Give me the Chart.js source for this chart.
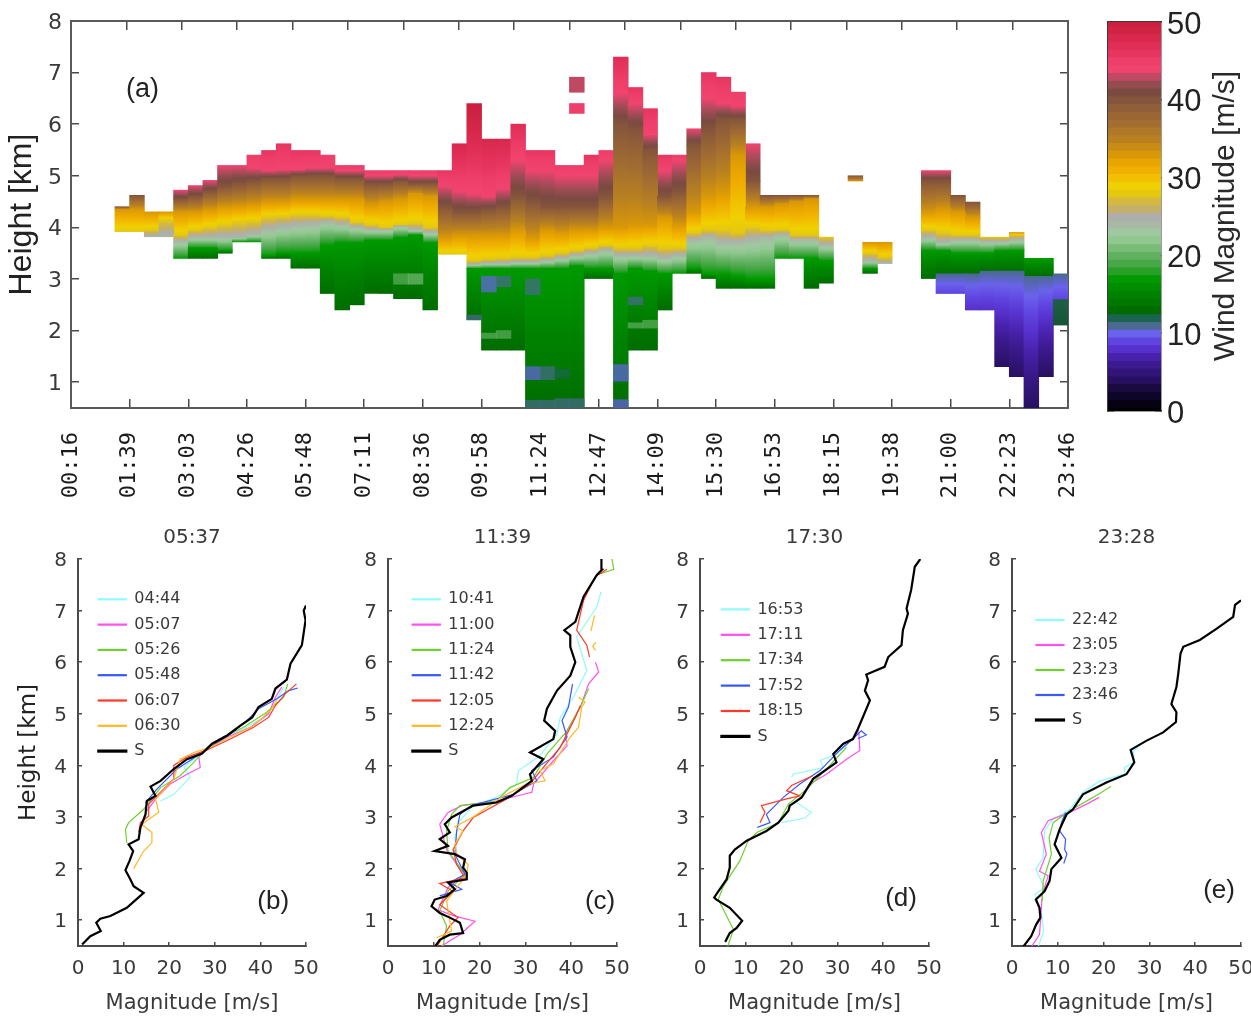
<!DOCTYPE html>
<html>
<head>
<meta charset="utf-8">
<title>Wind magnitude</title>
<script src="https://cdn.jsdelivr.net/npm/chart.js@4"></script>
<style>
    html, body { margin: 0; padding: 0; background: #fff; overflow: hidden; width: 1251px; height: 1016px; }
    canvas { position: absolute; filter: blur(0.5px); }
</style>
</head>
<body>
<canvas id="panel-a" width="1100" height="520" style="left:0;top:0"></canvas>
<canvas id="colorbar" width="161" height="440" style="left:1090px;top:0"></canvas>
<canvas id="panel-b" width="320" height="496" style="left:0;top:520px"></canvas>
<canvas id="panel-c" width="321" height="496" style="left:310px;top:520px"></canvas>
<canvas id="panel-d" width="321" height="496" style="left:622px;top:520px"></canvas>
<canvas id="panel-e" width="321" height="496" style="left:934px;top:520px"></canvas>
<script>
// time labels under the height/time plot, one every 4 columns
const timeLabels = ['00:16', '01:39', '03:03', '04:26', '05:48', '07:11', '08:36', '09:58', '11:24',
    '12:47', '14:09', '15:30', '16:53', '18:15', '19:38', '21:00', '22:23', '23:46'];
const timeTicks = [0, 4, 8, 12, 16, 20, 24, 28, 32, 36, 40, 44, 48, 52, 56, 60, 64, 68];
const heightTicks = [1, 2, 3, 4, 5, 6, 7, 8];
const colorbarTicks = [0, 10, 20, 30, 40, 50];

// colour of each whole m/s from 0 to 50
const magnitudeColors = [
    '#000000', '#060214', '#0e0628', '#1a0a40', '#281060', '#321578', '#3c1a90', '#4822ac', '#5630cc', '#6044e0',
    '#6a62ec', '#4a6a90', '#1a6450', '#006c00', '#007800', '#008200', '#008e00', '#009a00', '#28a028', '#48a848',
    '#60b060', '#78bc78', '#90c890', '#a0c8a0', '#a8b8a4', '#aeaeac', '#c4b068', '#d4b840', '#e4c810', '#f0d000',
    '#f2c000', '#f0b000', '#e8a400', '#d89808', '#c88c14', '#b88020', '#ae7828', '#a46e30', '#9a6634', '#905e38',
    '#84543c', '#7a4a40', '#944c50', '#c04862', '#f0446e', '#ee3e6a', '#e63660', '#e02e56', '#d8284c', '#d02444',
    '#cc1f3f'
];

// lowest and highest height [km] with data in each of the 68 time columns
const colBase = [
    0, 0, 0, 3.92, 3.92, 3.82, 3.82, 3.40, 3.40, 3.40,
    3.50, 3.72, 3.72, 3.40, 3.40, 3.21, 3.21, 2.72, 2.40, 2.50,
    2.72, 2.72, 2.62, 2.62, 2.40, 3.48, 3.48, 2.21, 1.62, 1.62,
    1.62, 0.5, 0.5, 0.5, 0.5, 3.01, 3.01, 0.5, 1.62, 1.62,
    2.40, 3.11, 3.11, 3.01, 2.82, 2.82, 2.82, 2.82, 3.40, 3.40,
    2.82, 2.92, 0, 4.90, 3.11, 3.30, 0, 0, 3.01, 2.72,
    2.72, 2.40, 2.40, 1.30, 1.11, 0.5, 1.11, 2.11
];
const colTop = [
    0, 0, 0, 4.40, 4.62, 4.30, 4.30, 4.72, 4.81, 4.91,
    5.20, 5.20, 5.40, 5.49, 5.62, 5.49, 5.49, 5.40, 5.20, 5.20,
    5.10, 5.10, 5.10, 5.10, 5.10, 5.10, 5.62, 6.40, 5.71, 5.71,
    6.00, 5.49, 5.49, 5.20, 5.20, 5.40, 5.49, 7.30, 6.71, 6.30,
    5.40, 5.40, 5.91, 7.00, 6.91, 6.62, 5.62, 4.62, 4.62, 4.62,
    4.62, 3.81, 0, 5.00, 3.71, 3.71, 0, 0, 5.10, 5.10,
    4.62, 4.49, 3.81, 3.81, 3.90, 3.40, 3.40, 3.10
];

// height [km] at which each column's magnitude passes 11, 17, 24, 28, 33, 40 and 44 m/s (9 = never)
const h11 = [
    0, 0, 0, 0, 0, 0, 0, 0, 0, 0,
    0, 0, 0, 0, 0, 0, 0, 0, 0, 0,
    0, 0, 0, 0, 0, 0, 0, 0, 0, 0,
    0, 0, 0, 0, 0, 0, 0, 0, 0, 0,
    0, 0, 0, 0, 0, 0, 0, 0, 0, 0,
    0, 0, 0, 0, 0, 0, 0, 0, 3.0, 3.1,
    3.1, 3.1, 3.15, 3.15, 3.15, 3.05, 3.05, 3.10
];
const h17 = [
    0, 0, 0, 0, 0, 0, 0, 3.3, 3.6, 3.6,
    3.55, 3.7, 3.7, 3.45, 3.5, 3.5, 3.5, 3.65, 3.7, 3.7,
    3.75, 3.75, 3.8, 3.85, 3.7, 3.4, 3.4, 3.2, 3.2, 3.2,
    3.2, 3.2, 3.2, 3.2, 3.25, 3.2, 3.2, 3.1, 3.2, 3.15,
    3.1, 3.1, 3.2, 3.1, 3.1, 3.05, 3.0, 3.0, 3.4, 3.4,
    3.4, 3.35, 0, 0, 3.2, 3.3, 0, 0, 3.55, 3.55,
    3.5, 3.5, 3.5, 3.55, 3.55, 3.5, 3.5, 3.2
];
const h24 = [
    0, 0, 0, 3.8, 3.8, 3.7, 3.75, 3.72, 3.8, 3.8,
    3.8, 3.8, 3.85, 3.95, 4.0, 4.03, 4.05, 4.1, 4.05, 4.0,
    3.95, 3.95, 4.02, 3.95, 3.9, 3.4, 3.4, 3.28, 3.3, 3.3,
    3.32, 3.32, 3.35, 3.4, 3.45, 3.5, 3.55, 3.45, 3.45, 3.45,
    3.4, 3.45, 3.75, 3.8, 3.7, 3.7, 3.75, 3.8, 3.85, 3.75,
    3.75, 3.65, 0, 0, 3.35, 3.3, 0, 0, 3.8, 3.7,
    3.75, 3.75, 3.72, 3.72, 3.75, 9, 9, 9
];
const h28 = [
    0, 0, 0, 3.9, 3.9, 3.95, 4.15, 3.85, 3.95, 4.0,
    4.05, 4.1, 4.12, 4.2, 4.22, 4.25, 4.25, 4.22, 4.2, 4.1,
    4.05, 4.0, 4.05, 4.08, 4.0, 3.42, 3.42, 3.35, 3.38, 3.4,
    3.42, 3.42, 3.45, 3.5, 3.55, 3.6, 3.65, 3.6, 3.6, 3.65,
    3.6, 3.6, 3.9, 3.95, 3.95, 3.9, 4.0, 3.95, 3.95, 3.85,
    3.85, 3.85, 0, 0, 3.5, 3.42, 0, 0, 3.95, 3.9,
    3.85, 3.85, 3.83, 3.82, 3.85, 9, 9, 9
];
const h33 = [
    0, 0, 0, 4.35, 4.35, 4.35, 4.4, 4.3, 4.3, 4.35,
    4.4, 4.42, 4.45, 4.5, 4.5, 4.55, 4.55, 4.55, 4.55, 4.55,
    4.45, 4.5, 4.55, 4.65, 4.6, 3.8, 3.85, 3.85, 3.85, 3.85,
    3.95, 3.8, 3.95, 3.9, 3.95, 3.95, 4.0, 4.0, 4.05, 4.05,
    4.2, 4.05, 4.3, 4.6, 4.7, 5.4, 4.4, 4.4, 4.45, 4.5,
    4.55, 9, 0, 4.7, 9, 9, 0, 0, 4.3, 4.35,
    4.3, 4.2, 9, 9, 9, 9, 9, 9
];
const h40 = [
    0, 0, 0, 4.8, 4.8, 9, 9, 4.55, 4.6, 4.7,
    4.8, 4.85, 4.9, 4.95, 4.95, 5.0, 5.0, 5.0, 4.95, 4.95,
    4.85, 4.85, 4.9, 4.85, 4.85, 4.4, 4.3, 4.3, 4.35, 4.4,
    4.6, 4.5, 4.4, 4.4, 4.4, 4.4, 4.6, 6.0, 5.9, 5.5,
    4.6, 4.7, 5.6, 5.9, 6.1, 6.1, 4.9, 4.75, 4.75, 4.8,
    4.8, 9, 0, 5.2, 9, 9, 0, 0, 4.9, 4.9,
    4.65, 9, 9, 9, 9, 9, 9, 9
];
const h44 = [
    0, 0, 0, 9, 9, 9, 9, 5.0, 5.0, 5.1,
    5.3, 5.25, 5.15, 5.1, 5.12, 5.12, 5.15, 5.15, 5.1, 5.1,
    5.0, 5.0, 5.02, 5.0, 5.0, 4.8, 4.7, 4.65, 4.6, 4.75,
    5.3, 5.1, 5.1, 5.0, 5.0, 5.0, 5.3, 6.6, 6.4, 5.8,
    5.1, 5.3, 6.0, 6.5, 6.4, 6.35, 9, 9, 9, 9,
    9, 9, 9, 9, 9, 9, 9, 9, 9, 9,
    9, 9, 9, 9, 9, 9, 9, 9
];
const bandEdges = [h11, h17, h24, h28, h33, h40, h44];
const bandLowMag = [4, 13, 17, 24, 28, 33, 40, 44];
const bandHighMag = [11, 17, 24, 28, 33, 40, 44, 50];

// patches that do not follow the bands: time column, low/high height, magnitude
const patchCols = [28, 29, 31, 31, 32, 33, 34, 31, 32, 33, 37, 37, 38, 27, 67, 28, 29, 38, 39, 22, 23, 34, 34];
const patchLows = [2.75, 2.85, 2.7, 0.5, 0.5, 0.5, 0.5, 1.05, 1.05, 1.08, 1.02, 0.5, 2.5, 2.21, 2.11, 1.85, 1.85, 2.05, 2.05, 2.9, 2.9, 6.62, 6.21];
const patchHighs = [3.05, 3.05, 3.0, 0.65, 0.65, 0.68, 0.68, 1.3, 1.3, 1.25, 1.34, 0.66, 2.65, 2.3, 2.6, 1.95, 2.0, 2.15, 2.2, 3.1, 3.1, 6.91, 6.40];
const patchMags = [10, 11, 11, 11, 11, 11, 11, 10, 11, 12, 10, 10, 11, 11, 13, 20, 20, 20, 20, 20, 21, 43, 45];

// profile panels, each series is a list of [magnitude, height], NaN marks a gap
const b0444 = [[18.1, 3.31], [21, 3.44], [24.6, 3.77], [23.2, 3.96], [27.6, 4.29], [31.9, 4.55], [36.3, 4.71], [40.7, 4.93], [42.9, 5.16], [45.1, 5.52]];
const b0507 = [[15.1, 3.12], [17.3, 3.38], [20.2, 3.64], [23.9, 3.83], [26.8, 3.96], [26.5, 4.16], [28.3, 4.32], [32.7, 4.55], [37.8, 4.74], [41.8, 5], [43.3, 5.32], [44.7, 5.52]];
const b0526 = [[10.7, 2.5], [10.4, 2.76], [11.1, 2.89], [14.4, 3.15], [18.1, 3.57], [22.4, 3.8], [25.4, 4.06], [28.3, 4.35], [31.9, 4.55], [36.3, 4.74], [41.4, 5.03], [45.1, 5.32], [46, 5.58]];
const b0548 = [[14.8, 3.28], [17.3, 3.54], [21.7, 3.93], [25, 4.12], [29, 4.35], [33.4, 4.61], [37.1, 4.87], [39.6, 5.1], [43.6, 5.29], [46.2, 5.45], [48.2, 5.5]];
const b0607 = [[13.3, 2.7], [13.7, 2.89], [15.5, 3.02], [15.5, 3.25], [17.3, 3.41], [21, 3.74], [21, 4], [23.9, 4.16], [28.3, 4.3], [33.4, 4.51], [38.5, 4.74], [41.8, 4.93], [43.3, 5.16], [45.5, 5.39], [47.9, 5.58]];
const b0630 = [[12.2, 2], [14.4, 2.34], [16.2, 2.5], [16.2, 2.7], [14, 2.86], [17.7, 3.09], [17, 3.35], [21, 3.74], [22.4, 4.12], [25.4, 4.25], [29, 4.35], [33.4, 4.55], [38.5, 4.77], [42.2, 5.06], [43.6, 5.26]];
const bS = [[0.9, 0.53], [2.7, 0.69], [5, 0.79], [4, 0.95], [4.9, 1.03], [7.1, 1.08], [10.7, 1.24], [14.4, 1.53], [12.2, 1.66], [11.5, 1.79], [10.4, 1.97], [11.3, 2.15], [12.1, 2.34], [11.1, 2.47], [13.3, 2.57], [13.7, 2.8], [14.8, 3.05], [15.1, 3.31], [17, 3.41], [15.9, 3.59], [18.1, 3.7], [21, 3.93], [23.9, 4.12], [27.2, 4.23], [29.4, 4.42], [32.7, 4.58], [35.6, 4.77], [38.2, 4.93], [39.6, 5.13], [42.5, 5.29], [43.3, 5.49], [45.8, 5.66], [46.6, 5.97], [49.1, 6.33], [49.9, 6.81], [49.5, 7], [50, 7.1]];

const c1041 = [[15, 2.34], [14.6, 2.6], [15.7, 2.93], [18.6, 3.22], [23.7, 3.38], [28.1, 3.64], [28.5, 3.9], [33.2, 4.19], [36.9, 4.61], [37.6, 4.93], [40.5, 5.32], [43.4, 5.84], [41.2, 6.49], [45.6, 7.07], [46.5, 7.36]];
const c1100 = [[11.3, 0.48], [15.7, 0.72], [19, 0.98], [14.6, 1.08], [10.9, 1.2], [13.1, 1.63], [16.8, 1.89], [15, 2.08], [12.8, 2.37], [11.3, 2.86], [13.1, 3.09], [16.1, 3.22], [23.7, 3.31], [31.4, 3.48], [31.8, 3.64], [36.1, 4.09], [39.1, 4.38], [38.7, 4.61], [42, 5.13], [43.8, 5.58], [46, 5.81], [45.3, 6]];
const c1124 = [[12, 0.48], [12.8, 0.89], [11.3, 1.18], [13.1, 1.56], [16.8, 1.89], [15, 2.11], [13.1, 2.34], [12.8, 2.73], [13.9, 3.05], [15.7, 3.22], [23.7, 3.31], [26.6, 3.57], [31.8, 3.77], [34.7, 4.22], [39.1, 4.67], [42.3, 5.19], [43.8, 5.49], [NaN, NaN], [45.6, 7.69], [49.3, 7.8], [48.9, 8]];
const c1142 = [[11.3, 1.47], [16.1, 1.6], [13.5, 1.73], [16.8, 1.89], [14.6, 2.28], [15, 2.73], [15.7, 3.05], [18.2, 3.22], [27.4, 3.44], [32.5, 3.7], [31.4, 3.9], [36.1, 4.16], [39.1, 4.55], [38, 4.87], [39.4, 5.13], [40.3, 5.58]];
const c1205 = [[10.6, 0.48], [13.5, 0.89], [15.3, 1.05], [11.3, 1.3], [14.2, 1.56], [11.3, 1.71], [16.8, 1.82], [15, 2.08], [14.2, 2.37], [16.4, 2.73], [18.6, 2.99], [25.9, 3.35], [31, 3.64], [33.6, 3.93], [37.6, 4.35], [40.9, 4.93], [42, 5.16], [NaN, NaN], [44, 6.1], [43.4, 6.33], [41.2, 6.62], [42.7, 7.2], [45.3, 7.66], [47.8, 7.8]];
const c1224 = [[10.6, 0.66], [13.9, 0.79], [13.5, 0.98], [12.8, 1.37], [17.2, 1.89], [17.5, 2.08], [15, 2.28], [14.6, 2.47], [16.4, 2.73], [14.6, 2.81], [18.6, 3], [25.2, 3.41], [30.3, 3.64], [34.3, 3.7], [33.2, 3.9], [36.1, 4.03], [39.8, 4.55], [41.6, 4.74], [42.3, 5.13], [43, 5.23], [41.6, 5.32], [NaN, NaN], [45.3, 6.23], [44.7, 6.31], [45.4, 6.39], [NaN, NaN], [44.3, 6.6], [45.1, 6.91]];
const cS = [[10.2, 0.48], [11.3, 0.62], [13.5, 0.72], [16.4, 0.75], [15.7, 0.95], [13.5, 1.05], [11.3, 1.14], [9.5, 1.27], [10.2, 1.4], [12.8, 1.47], [14.6, 1.6], [13.1, 1.73], [17.2, 1.79], [17.2, 1.92], [16.4, 2.02], [16.8, 2.18], [14.6, 2.28], [10.2, 2.34], [13.1, 2.44], [11.3, 2.57], [13.5, 2.7], [12.4, 2.86], [13.9, 2.99], [18.6, 3.22], [23.7, 3.28], [27, 3.41], [31.4, 3.7], [31, 3.83], [33.9, 4.12], [31, 4.25], [36.1, 4.51], [36.5, 4.67], [34.1, 4.87], [34.7, 5.1], [36.9, 5.45], [39.8, 5.74], [40.9, 6], [39.8, 6.3], [39.8, 6.52], [38.5, 6.62], [40.9, 6.78], [42.7, 7.27], [45.6, 7.69], [46.7, 7.79], [46.6, 8]];

const d1653 = [[17.8, 2.89], [22.9, 2.98], [24.3, 3.09], [21.1, 3.28], [19.3, 3.22], [NaN, NaN], [20, 3.77], [20.3, 3.83], [26.9, 3.96], [26.3, 4.1], [29.8, 4.22], [33.4, 4.51]];
const d1711 = [[24, 3.64], [27.6, 3.83], [32, 4.12], [34.9, 4.29], [34.7, 4.61], [34.5, 4.7]];
const d1734 = [[6, 0.48], [7.3, 0.82], [4, 1.4], [5.1, 1.66], [8.7, 2.15], [10.5, 2.54], [12.4, 2.7], [17.1, 2.89], [19.3, 3.25], [23.3, 3.54], [27.6, 3.93], [32, 4.35]];
const d1752 = [[12.5, 2.8], [15.3, 2.89], [14.5, 3.05], [18.2, 3.38], [21.8, 3.64], [26.2, 3.9], [30.5, 4.29], [33.8, 4.55], [35.2, 4.67], [36.3, 4.59], [34.5, 4.52]];
const d1815 = [[13.1, 2.89], [14.2, 3.09], [13.4, 3.22], [18.9, 3.35], [21.8, 3.41], [18.9, 3.51], [20, 3.61], [24.6, 3.8]];
const dS = [[5.5, 0.58], [6.5, 0.75], [8, 0.85], [9.2, 0.99], [6.5, 1.24], [3.6, 1.4], [3.1, 1.44], [4, 1.56], [5.8, 1.79], [6.5, 2.02], [6.5, 2.25], [7.6, 2.37], [10.2, 2.54], [14.5, 2.73], [17.1, 2.89], [19.3, 3.12], [19.6, 3.22], [22.2, 3.38], [24.7, 3.74], [29.8, 4.06], [29.1, 4.22], [31.3, 4.42], [33.4, 4.51], [34.5, 4.71], [37.1, 5.26], [36, 5.45], [36.7, 5.65], [36.3, 5.76], [40.3, 5.91], [41.1, 6.1], [44, 6.33], [44.3, 6.62], [45.4, 6.94], [45.1, 7.04], [46.1, 7.4], [46.9, 7.85], [48.1, 8]];

const e2242 = [[5.7, 0.48], [6.9, 0.79], [6.4, 1.18], [5, 1.5], [7.1, 1.63], [5.2, 1.99], [6.8, 2.21], [7.1, 2.73], [8.6, 2.93], [12.6, 3.15], [15.5, 3.48], [19.2, 3.7], [24.6, 3.83], [24.6, 3.96], [26.7, 4.06], [26.5, 4.29], [27.6, 4.35]];
const e2305 = [[4.2, 0.48], [6, 0.72], [6.4, 1.2], [6.6, 1.5], [7.9, 1.86], [6, 1.95], [7.5, 2.28], [6.4, 2.7], [7.9, 2.93], [12.6, 3.09], [16.3, 3.25], [19, 3.38]];
const e2323 = [[6.6, 1.37], [6.8, 1.76], [8.6, 2.28], [8.1, 2.6], [9, 2.89], [12.6, 3.12], [17.7, 3.38], [21.6, 3.59]];
const e2346 = [[11.3, 2.1], [12, 2.28], [11.5, 2.37], [11.7, 2.57], [10.4, 2.73], [10.8, 2.89], [11.7, 3.09]];
const eS = [[2.4, 0.48], [4.2, 0.69], [5.3, 0.92], [6.2, 1.05], [6, 1.24], [5.2, 1.4], [7.1, 1.56], [8.2, 1.76], [8.6, 1.99], [10.8, 2.21], [9.3, 2.47], [10.4, 2.76], [11.9, 3.05], [13.3, 3.15], [15.5, 3.44], [20.6, 3.67], [25, 3.83], [26.7, 4.06], [25.9, 4.3], [29.4, 4.48], [33, 4.64], [35.8, 4.84], [35.9, 5.03], [34.8, 5.19], [35.9, 5.52], [36.3, 5.78], [36.8, 6.17], [37.4, 6.3], [41, 6.43], [44.7, 6.65], [48.3, 6.88], [48.7, 7.11], [50, 7.2]];

const CYAN = '#8ffbfb', MAGENTA = '#ff50f0', GREEN = '#70d030', BLUE = '#3858f8', RED = '#ff3828', ORANGE = '#ffb828', BLACK = '#000000';
const AXIS = '#4a4a4a';
const TEXT = '#3a3a3a';

function makeGradient(chart, lowHeight, highHeight, lowMag, highMag) {
    const yScale = chart.scales.y;
    const y0 = yScale.getPixelForValue(lowHeight);
    const y1 = yScale.getPixelForValue(highHeight);
    // scales have no size yet on the very first resolve
    if (!Number.isFinite(y0) || !Number.isFinite(y1)) return magnitudeColors[Math.round(lowMag)];
    const gradient = chart.ctx.createLinearGradient(0, y0, 0, y1);
    const first = Math.floor(lowMag);
    const last = Math.ceil(highMag);
    for (let m = first; m <= last; m++) {
        gradient.addColorStop((m - first) / (last - first), magnitudeColors[m]);
    }
    return gradient;
}

function bandDataset(k) {
    const points = [];
    for (let i = 0; i < colBase.length; i++) {
        const low = Math.max(colBase[i], k === 0 ? 0 : bandEdges[k - 1][i]);
        const high = Math.min(colTop[i], k === 7 ? 9 : bandEdges[k][i]);
        if (high > low) points.push({ x: i + 0.5, y: [low, high] });
    }
    return {
        data: points,
        backgroundColor(ctx) {
            if (!ctx.raw) return magnitudeColors[bandLowMag[k]];
            const [low, high] = ctx.raw.y;
            let lowMag = bandLowMag[k];
            let highMag = bandHighMag[k];
            // thin ends of the outer bands do not reach the far end of the scale
            if (k === 0) lowMag = Math.max(lowMag, 11 - (high - low) * 3.5);
            if (k === 7) highMag = Math.min(highMag, 44 + (high - low) * 3.5);
            return makeGradient(ctx.chart, low, high, lowMag, highMag);
        }
    };
}

function patchDataset() {
    return {
        data: patchCols.map((col, i) => ({ x: col + 0.5, y: [patchLows[i], patchHighs[i]] })),
        backgroundColor: patchMags.map(m => magnitudeColors[m] + (m < 30 ? 'b0' : 'ff'))
    };
}

// letters and other free text on a panel
function textPlugin(items) {
    return {
        id: 'panelText',
        afterDraw(chart) {
            const ctx = chart.ctx;
            items.forEach(item => {
                ctx.save();
                ctx.font = item.font;
                ctx.fillStyle = item.color || '#222';
                ctx.textAlign = 'center';
                ctx.textBaseline = 'middle';
                const px = item.xValue !== undefined ? chart.scales.x.getPixelForValue(item.xValue) : item.px;
                const py = item.yValue !== undefined ? chart.scales[item.yScale || 'y'].getPixelForValue(item.yValue) : item.py;
                ctx.translate(px, py);
                if (item.rotate) ctx.rotate(item.rotate);
                ctx.fillText(item.text, 0, 0);
                ctx.restore();
            });
        }
    };
}

// keep the plot area where the layout padding puts it, whatever the labels measure
function clearPadding(scale) {
    scale.paddingLeft = 0;
    scale.paddingRight = 0;
    scale.paddingTop = 0;
    scale.paddingBottom = 0;
}
function fixedWidth(width) { return scale => { scale.width = width; clearPadding(scale); }; }
function fixedHeight(height) { return scale => { scale.height = height; clearPadding(scale); }; }

function initPanelA() {
    const datasets = bandLowMag.map((m, k) => bandDataset(k));
    datasets.unshift(patchDataset());
    const tickGrid = len => ({ drawOnChartArea: false, drawTicks: true, tickLength: len, color: AXIS, lineWidth: 1.5 });
    const frame = { color: '#5a5a5a', width: 2 };
    new Chart(document.getElementById('panel-a'), {
        type: 'bar',
        data: { datasets },
        options: {
            responsive: false,
            animation: false,
            devicePixelRatio: 1,
            layout: { padding: { top: 21, right: 32 } },
            datasets: { bar: { grouped: false, barPercentage: 1, categoryPercentage: 1, inflateAmount: 0.4 } },
            plugins: { legend: { display: false }, tooltip: { enabled: false } },
            scales: {
                x: {
                    type: 'linear', min: 0, max: 68, position: 'bottom', offset: false,
                    afterBuildTicks: s => { s.ticks = timeTicks.map(value => ({ value })); },
                    afterFit: fixedHeight(112),
                    grid: { ...tickGrid(-9), offset: false }, border: frame,
                    ticks: {
                        autoSkip: false, minRotation: 90, maxRotation: 90, padding: 33, color: '#1a1a1a',
                        font: { family: '"DejaVu Sans Mono"', size: 22 },
                        callback: v => timeLabels[v / 4]
                    }
                },
                xt: {
                    type: 'linear', min: 0, max: 68, position: 'top',
                    afterBuildTicks: s => { s.ticks = timeTicks.map(value => ({ value })); },
                    afterFit: fixedHeight(0),
                    grid: tickGrid(-9), border: frame,
                    ticks: { display: false }
                },
                y: {
                    type: 'linear', min: 0.5, max: 8, position: 'left',
                    afterBuildTicks: s => { s.ticks = heightTicks.map(value => ({ value })); },
                    afterFit: fixedWidth(71),
                    grid: tickGrid(-8), border: frame,
                    ticks: { padding: 17, labelOffset: 2, color: TEXT, font: { family: '"DejaVu Sans"', size: 22 } },
                    title: {
                        display: true, text: 'Height [km]', color: '#222', padding: { top: 3, bottom: 0 },
                        font: { family: '"Liberation Sans"', size: 32 }
                    }
                },
                yr: {
                    type: 'linear', min: 0.5, max: 8, position: 'right',
                    afterBuildTicks: s => { s.ticks = heightTicks.map(value => ({ value })); },
                    afterFit: fixedWidth(0),
                    grid: tickGrid(-8), border: frame,
                    ticks: { display: false }
                }
            }
        },
        plugins: [textPlugin([{ text: '(a)', font: '27px "Liberation Sans"', xValue: 4.87, yValue: 6.68 }])]
    });
}

function initColorbar() {
    const levels = magnitudeColors.map((c, m) => ({ x: 1, y: m }));
    const frame = { color: '#3a3a3a', width: 1.5 };
    const tickGrid = { drawOnChartArea: false, drawTicks: true, tickLength: -6, color: '#222', lineWidth: 1.5 };
    new Chart(document.getElementById('colorbar'), {
        type: 'bar',
        data: {
            datasets: [{
                data: levels, backgroundColor: magnitudeColors,
                barPercentage: 1, categoryPercentage: 1, inflateAmount: 0.4
            }]
        },
        options: {
            indexAxis: 'y',
            responsive: false,
            animation: false,
            devicePixelRatio: 1,
            layout: { padding: { left: 18, top: 22, bottom: 29 } },
            plugins: { legend: { display: false }, tooltip: { enabled: false } },
            scales: {
                x: { type: 'linear', min: 0, max: 1, position: 'bottom', afterFit: fixedHeight(0), grid: { display: false }, border: frame, ticks: { display: false } },
                xt: { type: 'linear', min: 0, max: 1, position: 'top', afterFit: fixedHeight(0), grid: { display: false }, border: frame, ticks: { display: false } },
                y: {
                    type: 'linear', min: 0, max: 50, position: 'right', offset: false,
                    afterBuildTicks: s => { s.ticks = colorbarTicks.map(value => ({ value })); },
                    afterFit: fixedWidth(90),
                    grid: { ...tickGrid, offset: false }, border: frame,
                    ticks: { padding: 12, labelOffset: 3, color: '#222', font: { family: '"Liberation Sans"', size: 31 } }
                },
                yl: {
                    type: 'linear', min: 0, max: 50, position: 'left',
                    afterBuildTicks: s => { s.ticks = colorbarTicks.map(value => ({ value })); },
                    afterFit: fixedWidth(0),
                    grid: tickGrid, border: frame,
                    ticks: { display: false }
                }
            }
        },
        plugins: [textPlugin([{
            text: 'Wind Magnitude [m/s]', font: '30px "Liberation Sans"', color: '#2a2a2a',
            px: 136, py: 216, rotate: -Math.PI / 2
        }])]
    });
}

function initProfile(config) {
    const datasets = config.series.map((points, i) => ({
        label: config.labels[i],
        data: points,
        borderColor: config.colors[i],
        backgroundColor: config.colors[i],
        borderWidth: config.colors[i] === BLACK ? 2.2 : 1.2,
        showLine: true,
        pointRadius: 0,
        order: config.series.length - i
    }));
    // black line goes on top, legend keeps the original order
    datasets[datasets.length - 1].order = 0;
    const xyGrid = { drawOnChartArea: false, drawTicks: true, tickLength: -4, color: AXIS, lineWidth: 1.5 };
    const axisBorder = { color: AXIS, width: 2 };
    const tickFont = { family: '"DejaVu Sans"', size: 20 };
    const moveLegend = {
        id: 'moveLegend',
        beforeDraw(chart) {
            const legend = chart.legend;
            legend.left = config.legendX;
            legend.top = config.legendY;
            legend.right = legend.left + 200;
            legend.bottom = legend.top + 240;
        }
    };
    new Chart(document.getElementById(config.canvas), {
        type: 'scatter',
        data: { datasets },
        options: {
            responsive: false,
            animation: false,
            devicePixelRatio: 1,
            layout: { padding: { right: 14 } },
            plugins: {
                tooltip: { enabled: false },
                title: {
                    display: true, text: config.title, color: TEXT, fullSize: false,
                    font: { family: '"DejaVu Sans"', size: 20, weight: 'normal' },
                    padding: { top: 6, bottom: 9 }
                },
                legend: {
                    position: 'chartArea',
                    align: 'start',
                    labels: {
                        boxWidth: 28,
                        boxHeight: 1,
                        padding: config.legendGap,
                        color: TEXT,
                        font: { family: '"DejaVu Sans"', size: 16 },
                        sort: (a, b) => a.datasetIndex - b.datasetIndex
                    }
                }
            },
            scales: {
                x: {
                    type: 'linear', min: 0, max: 50, position: 'bottom',
                    afterFit: fixedHeight(70),
                    grid: xyGrid, border: axisBorder,
                    ticks: { stepSize: 10, padding: 15, color: TEXT, font: tickFont, maxRotation: 0 },
                    title: {
                        display: true, text: 'Magnitude [m/s]', color: TEXT, padding: { top: 0, bottom: 0 },
                        font: { family: '"DejaVu Sans"', size: 21 }
                    }
                },
                y: {
                    type: 'linear', min: 0.5, max: 8, position: 'left',
                    afterBuildTicks: s => { s.ticks = heightTicks.map(value => ({ value })); },
                    afterFit: fixedWidth(78),
                    grid: xyGrid, border: axisBorder,
                    ticks: { padding: 15, labelOffset: 2, color: TEXT, font: tickFont },
                    title: {
                        display: !!config.yTitle, text: config.yTitle, color: '#222', padding: { top: 15, bottom: 0 },
                        font: { family: '"DejaVu Sans"', size: 23 }
                    }
                }
            }
        },
        plugins: [moveLegend, textPlugin([{ text: config.tag, font: '26px "Liberation Sans"', xValue: config.tagMag, yValue: config.tagHeight }])]
    });
}

initPanelA();
initColorbar();
initProfile({
    canvas: 'panel-b', title: '05:37', tag: '(b)', tagMag: 42.8, tagHeight: 1.35, yTitle: 'Height [km]',
    legendX: 89, legendY: 62, legendGap: 9.3,
    labels: ['04:44', '05:07', '05:26', '05:48', '06:07', '06:30', 'S'],
    colors: [CYAN, MAGENTA, GREEN, BLUE, RED, ORANGE, BLACK],
    series: [b0444, b0507, b0526, b0548, b0607, b0630, bS]
});
initProfile({
    canvas: 'panel-c', title: '11:39', tag: '(c)', tagMag: 46.3, tagHeight: 1.35,
    legendX: 93, legendY: 62, legendGap: 9.3,
    labels: ['10:41', '11:00', '11:24', '11:42', '12:05', '12:24', 'S'],
    colors: [CYAN, MAGENTA, GREEN, BLUE, RED, ORANGE, BLACK],
    series: [c1041, c1100, c1124, c1142, c1205, c1224, cS]
});
initProfile({
    canvas: 'panel-d', title: '17:30', tag: '(d)', tagMag: 43.9, tagHeight: 1.42,
    legendX: 90, legendY: 72, legendGap: 9.4,
    labels: ['16:53', '17:11', '17:34', '17:52', '18:15', 'S'],
    colors: [CYAN, MAGENTA, GREEN, BLUE, RED, BLACK],
    series: [d1653, d1711, d1734, d1752, d1815, dS]
});
initProfile({
    canvas: 'panel-e', title: '23:28', tag: '(e)', tagMag: 45.2, tagHeight: 1.56,
    legendX: 93, legendY: 83, legendGap: 9,
    labels: ['22:42', '23:05', '23:23', '23:46', 'S'],
    colors: [CYAN, MAGENTA, GREEN, BLUE, BLACK],
    series: [e2242, e2305, e2323, e2346, eS]
});
</script>
</body>
</html>
